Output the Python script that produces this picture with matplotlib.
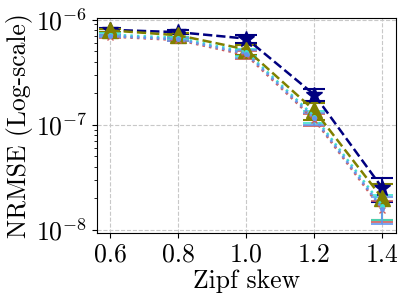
import numpy as np
import matplotlib
matplotlib.use('Agg')
import matplotlib.pyplot as plt

plt.rcParams['font.family'] = 'serif'
plt.rcParams['font.serif'] = ['cmr10']
plt.rcParams['mathtext.fontset'] = 'cm'
plt.rcParams['axes.formatter.use_mathtext'] = True
plt.rcParams['axes.unicode_minus'] = False

skew = [0.6, 0.8, 1.0, 1.2, 1.4]

# NRMSE per method (mean, error)
navy_y = [8.0e-7, 7.6e-7, 6.6e-7, 1.93e-7, 2.5e-8]
navy_err = [0.3e-7, 0.3e-7, 0.6e-7, 0.25e-7, 0.65e-8]
olive_y = [7.9e-7, 7.1e-7, 5.2e-7, 1.37e-7, 2.0e-8]
olive_err = [0.3e-7, 0.3e-7, 0.55e-7, 0.25e-7, 0.75e-8]
red_y = [6.9e-7, 6.4e-7, 4.6e-7, 1.12e-7, 1.55e-8]
red_err = [0.2e-7, 0.2e-7, 0.4e-7, 0.15e-7, 0.35e-8]
cyan_y = [7.2e-7, 6.7e-7, 4.9e-7, 1.2e-7, 1.7e-8]
cyan_err = [0.2e-7, 0.2e-7, 0.4e-7, 0.15e-7, 0.45e-8]
blue_y = [7.0e-7, 6.5e-7, 4.75e-7, 1.15e-7, 1.6e-8]
blue_err = [0.2e-7, 0.2e-7, 0.4e-7, 0.15e-7, 0.45e-8]

fig, ax = plt.subplots(figsize=(4.07, 3.05), dpi=100)

ax.errorbar(skew, navy_y, yerr=navy_err, color='navy', ls='--', lw=1.8,
            marker='*', ms=12, capsize=8, elinewidth=1.5, capthick=1.5)
ax.errorbar(skew, olive_y, yerr=olive_err, color='olive', ls='--', lw=1.8,
            marker='^', ms=11, capsize=8, elinewidth=1.5, capthick=1.5)
ax.errorbar(skew, red_y, yerr=red_err, color='indianred', ls=':', lw=1.8,
            marker='x', ms=4, capsize=8, elinewidth=1.2, capthick=1.2)
ax.errorbar(skew, cyan_y, yerr=cyan_err, color='turquoise', ls=':', lw=1.8,
            marker='.', ms=5, capsize=8, elinewidth=1.2, capthick=1.2)
ax.errorbar(skew, blue_y, yerr=blue_err, color='cornflowerblue', ls=':', lw=1.8,
            marker='.', ms=5, capsize=8, elinewidth=1.2, capthick=1.2)

ax.set_yscale('log')
ax.set_ylim(9.3e-9, 1.03e-6)
ax.set_xlim(0.56, 1.44)
ax.set_xticks(skew)
ax.set_xticklabels(['0.6', '0.8', '1.0', '1.2', '1.4'])
ax.tick_params(labelsize=18.5)
ax.grid(True, ls='--', color='#c8c8c8', lw=0.8)
ax.set_xlabel('Zipf skew', fontsize=18.5, labelpad=2)
ax.set_ylabel('NRMSE (Log-scale)', fontsize=18.5, labelpad=2)

fig.subplots_adjust(left=0.238, right=0.973, top=0.94, bottom=0.235)
fig.savefig('out.png')
